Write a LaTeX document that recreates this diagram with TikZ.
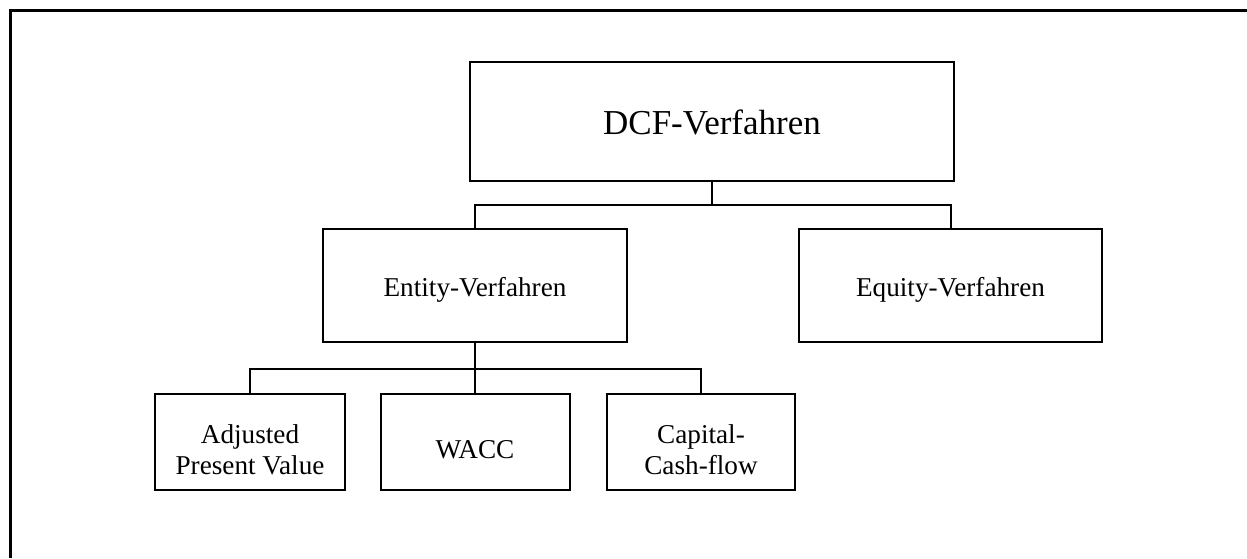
\documentclass[tikz,border=0pt]{standalone}
\usepackage{fontspec}
\setmainfont{Liberation Serif}
\begin{document}
\begin{tikzpicture}[x=1pt,y=-1pt,
  box/.style={draw,line width=2pt,inner sep=0pt},
  txt/.style={align=center,inner sep=0pt,font=\fontsize{27.2}{31}\selectfont},
  link/.style={line width=2pt}]
\useasboundingbox (0,0) rectangle (1247,558);
% outer frame (open to the right and bottom)
\draw[line width=3pt] (10,558) -- (10,10) -- (1247,10);
% boxes with their captions
\node[box,minimum width=484pt,minimum height=119pt,
  label={[txt,font=\fontsize{35}{38}\selectfont,yshift=-1pt]center:DCF-Verfahren}] (dcf) at (712,121.5) {};
\node[box,minimum width=304pt,minimum height=113pt,
  label={[txt,yshift=-4pt]center:Entity-Verfahren}] (entity) at (475,285.5) {};
\node[box,minimum width=303pt,minimum height=113pt,
  label={[txt,yshift=-4pt]center:Equity-Verfahren}] (equity) at (950.5,285.5) {};
\node[box,minimum width=190pt,minimum height=96pt,
  label={[txt,yshift=-8pt]center:Adjusted\\Present Value}] (apv) at (250,442) {};
\node[box,minimum width=189pt,minimum height=96pt,
  label={[txt,yshift=-8pt]center:WACC}] (wacc) at (475,442) {};
\node[box,minimum width=188pt,minimum height=96pt,
  label={[txt,yshift=-8pt]center:Capital-\\Cash-flow}] (ccf) at (701,442) {};
% connectors
\coordinate (bus1) at (712,205);
\coordinate (bus2) at (475,369);
\draw[link] (dcf.south) -- (bus1);
\draw[link] (entity.north) |- (bus1) -| (equity.north);
\draw[link] (entity.south) -- (bus2);
\draw[link] (apv.north) |- (bus2) -| (ccf.north);
\draw[link] (bus2) -- (wacc.north);
\end{tikzpicture}
\end{document}
